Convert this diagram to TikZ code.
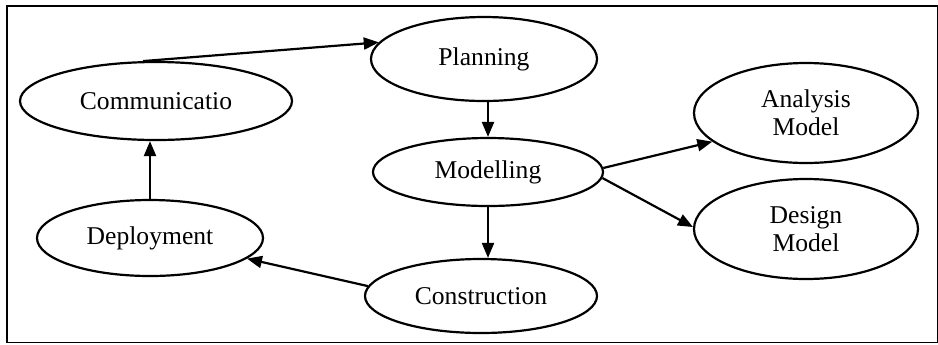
\documentclass[tikz,border=0pt]{standalone}
\usepackage{fontspec}
\setmainfont{Liberation Serif}
\usetikzlibrary{positioning,calc,arrows.meta,shapes.geometric}

\begin{document}
\begin{tikzpicture}[x=0.5pt, y=-0.5pt, ->, >={Stealth[length=7.5pt, width=6pt, inset=0pt]}, line width=1.1pt, main/.style = {ellipse, draw, fill=none, inner sep=0pt, align=center, font=\fontsize{12.8}{14}\selectfont}, every edge/.append style={line width=1.1pt}]

\useasboundingbox (0,0) rectangle (938,344);
\draw[-, line width=0.9pt] (7,6) rectangle (937.5,342.5);

\node[main, minimum width=136pt, minimum height=39pt] (comm) at (156,101) {Communicatio};
\node[main, minimum width=113pt, minimum height=42pt] (plan) at (484,59) {Planning};
\node[main, minimum width=115pt, minimum height=34pt] (mod) at (488,172) {Modelling};
\node[main, minimum width=112pt, minimum height=50pt] (ana) at (806,113) {Analysis\\Model};
\node[main, minimum width=112pt, minimum height=50pt] (des) at (806,229) {Design\\Model};
\node[main, minimum width=116pt, minimum height=37pt] (cons) at (481,296) {Construction};
\node[main, minimum width=113pt, minimum height=38pt] (dep) at (150,238) {Deployment};

\path 
    (comm.108) edge (plan.171)
    (mod.north |- plan.south) edge (mod.north)
    (mod.2) edge (ana.197)
    (mod.-3) edge (des.179)
    (mod.south) edge (mod.south |- cons.north)
    (cons.175) edge (dep.-12)
    (dep.north) edge (dep.north |- comm.south);
\end{tikzpicture}
\end{document}
